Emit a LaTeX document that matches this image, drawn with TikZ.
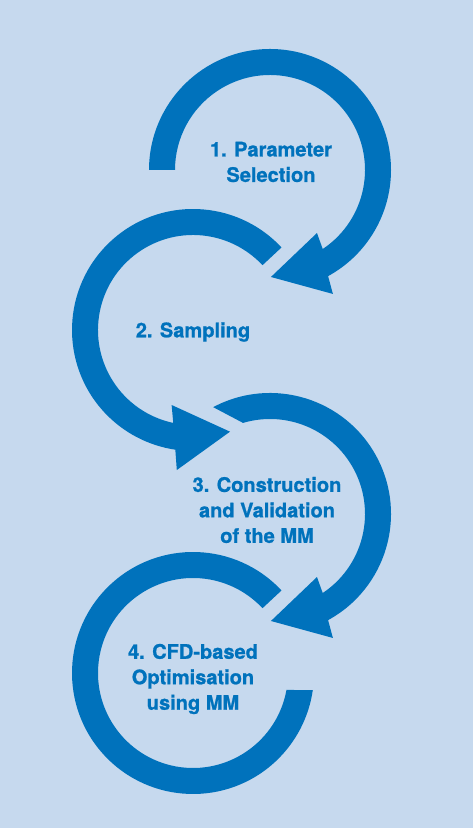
\documentclass[tikz,border=0pt]{standalone}
\usepackage{fontspec}
\setmainfont{TeX Gyre Heros}[BoldFeatures={FakeBold=1}]
\definecolor{bgblue}{RGB}{198,217,238}
\definecolor{arrowblue}{RGB}{0,114,188}

\begin{document}
\begin{tikzpicture}[scale=0.2,
    cyclearrow/.style={fill=arrowblue},
    steplabel/.style={text=arrowblue, align=center, inner sep=0pt,
        font=\fontsize{11.4pt}{14.5pt}\selectfont\bfseries}]
    \fill[bgblue] (0,0) rectangle (47.3,82.8);
    \useasboundingbox (0,0) rectangle (47.3,82.8);
    \fill[cyclearrow, shift={(27,65.8)}] (180:12.1) arc[start angle=180, end angle=-61.3, radius=12.1]
        -- (-63.1:13.9) -- (-89.5:10.7) -- (-53.3:7.86) -- (-56.3:9.5)
        arc[start angle=-56.3, end angle=180, radius=9.5] -- cycle;
    \fill[cyclearrow, shift={(19.3,49.8)}] (43:12.1) arc[start angle=43, end angle=261.6, radius=12.1]
        -- (263.4:14.1) -- (290:10.82) -- (254.1:7.8) -- (258:9.5)
        arc[start angle=258, end angle=43, radius=9.5] -- cycle;
    \fill[cyclearrow, shift={(27,31.4)}] (118:12.1) arc[start angle=118, end angle=-61.3, radius=12.1]
        -- (-63.1:13.9) -- (-89.5:10.7) -- (-53.3:7.86) -- (-56.3:9.5)
        arc[start angle=-56.3, end angle=106.5, radius=9.5] -- cycle;
    \fill[cyclearrow, shift={(19.3,15.5)}] (43:12.1) arc[start angle=43, end angle=351.9, radius=12.1]
        -- (349.7:9.5) arc[start angle=349.7, end angle=43, radius=9.5] -- cycle;
    \node[steplabel] (param) at (27.1,66.6) {1. Parameter\\Selection};
    \node[steplabel] (sampl) at (19.3,49.6) {2. Sampling};
    \node[steplabel] (valid) at (26.7,31.8) {3. Construction\\and Validation\\of the MM};
    \node[steplabel] (optim) at (19.3,14.9) {4. CFD-based\\Optimisation\\using MM};
\end{tikzpicture}
\end{document}
